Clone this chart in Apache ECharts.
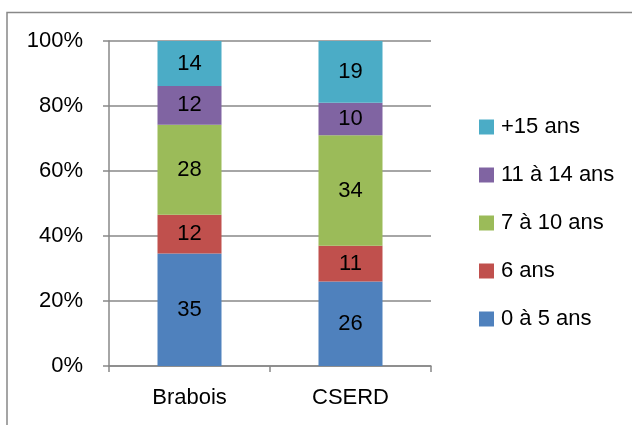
<!DOCTYPE html>
<html><head><meta charset="utf-8">
<script src="https://cdn.jsdelivr.net/npm/echarts@6/dist/echarts.min.js"></script>
<style>html,body{margin:0;padding:0;background:#fff}#c{width:632px;height:425px}</style>
</head><body><div id="c"></div>
<script>
var categories = ['Brabois', 'CSERD'];
var seriesNames = ['0 à 5 ans', '6 ans', '7 à 10 ans', '11 à 14 ans', '+15 ans'];
var s0a5 = [35, 26];
var s6 = [12, 11];
var s7a10 = [28, 34];
var s11a14 = [12, 10];
var s15 = [14, 19];
var yTicks = [0, 20, 40, 60, 80, 100];

var raw = [s0a5, s6, s7a10, s11a14, s15];
var colors = ['#4F81BD', '#C0504D', '#9BBB59', '#8064A2', '#4BACC6'];
var totals = categories.map(function (c, i) {
  return raw.reduce(function (a, s) { return a + s[i]; }, 0);
});
var font = 'Liberation Sans';
var series = raw.map(function (vals, k) {
  return {
    name: seriesNames[k], type: 'bar', stack: 'tot', barWidth: 64,
    itemStyle: { color: colors[k] },
    label: { show: true, position: 'inside', color: '#000', fontSize: 22, fontFamily: font,
      formatter: function (p) { return vals[p.dataIndex]; } },
    data: vals.map(function (v, i) { return v / totals[i] * 100; })
  };
});
var chart = echarts.init(document.getElementById('c'));
chart.setOption({
  animation: false,
  graphic: [{ type: 'rect', shape: { x: 7, y: 12.5, width: 700, height: 500 },
    style: { fill: 'none', stroke: '#888', lineWidth: 1.5 } }],
  grid: { left: 109, right: 201, top: 41, bottom: 59 },
  legend: {
    orient: 'vertical', left: 474, top: 111, itemGap: 26, itemWidth: 15, itemHeight: 15,
    icon: 'rect', data: seriesNames.slice().reverse(),
    textStyle: { fontSize: 22, fontFamily: font, color: '#000', padding: [0, 0, 0, 2] }
  },
  xAxis: {
    type: 'category', data: categories,
    axisLine: { lineStyle: { color: '#888', width: 1.5 } },
    axisTick: { show: true, length: 6, lineStyle: { color: '#888', width: 1.5 } },
    axisLabel: { fontSize: 22, fontFamily: font, color: '#000', margin: 21 }
  },
  yAxis: {
    type: 'value', min: yTicks[0], max: yTicks[yTicks.length - 1], interval: 20,
    axisLine: { show: true, lineStyle: { color: '#888', width: 1.5 } },
    axisTick: { show: true, length: 6, lineStyle: { color: '#888', width: 1.5 } },
    splitLine: { lineStyle: { color: '#888', width: 1.5 } },
    axisLabel: { fontSize: 22, fontFamily: font, color: '#000', margin: 26,
      formatter: '{value}%' }
  },
  series: series
});
</script></body></html>
